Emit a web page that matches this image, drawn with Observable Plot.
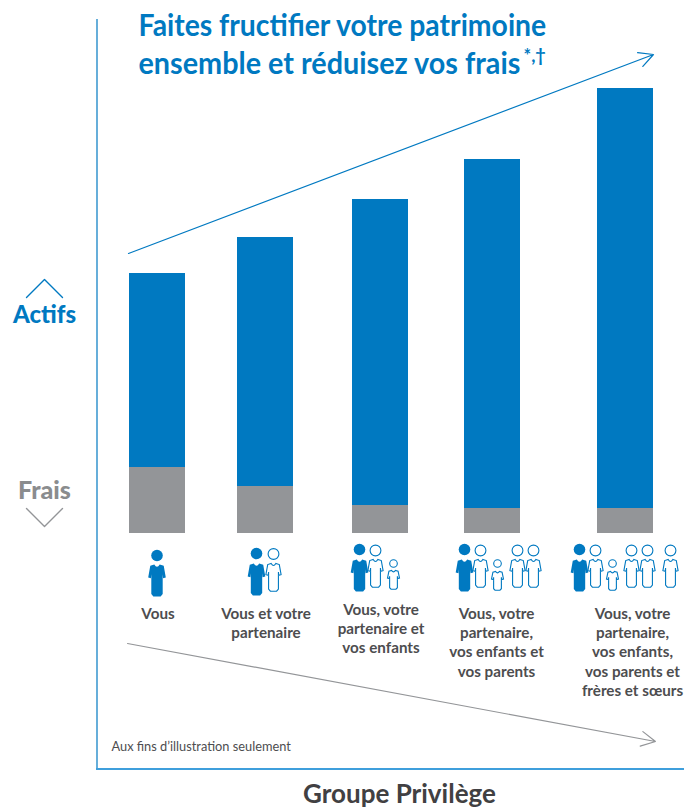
<!DOCTYPE html>
<html lang="fr">
<head>
<meta charset="utf-8">
<script src="https://cdn.jsdelivr.net/npm/d3@7"></script>
<script src="https://cdn.jsdelivr.net/npm/@observablehq/plot@0.6"></script>
<style>html,body{margin:0;padding:0;background:#fff}svg{display:block}</style>
</head>
<body>
<script>
// Chart values
const frais = [66, 47, 28, 25, 25];
const actifs = [194, 249, 306, 349, 420];
const categories = ["Vous", "Vous et votre\npartenaire", "Vous, votre\npartenaire et\nvos enfants", "Vous, votre\npartenaire,\nvos enfants et\nvos parents", "Vous, votre\npartenaire,\nvos enfants,\nvos parents et\nfrères et sœurs"];
const titleLines = ["Faites fructifier votre patrimoine", "ensemble et réduisez vos frais"];

// Layout (page pixels)
const barCenters = [157, 265, 380, 492, 625];
const labelCenters = [157.5, 265.5, 380.5, 496, 632];
const labelTops = [604.5, 604.5, 600.5, 604.5, 604.5];
const titleWidths = [408, 382];
const BASE = 533, BLUE = "#0079c1", GREY = "#939598", DARK = "#4d4d4f", LIGHTBLUE = "#3f9fdc";
const FONT = "Lato, sans-serif";
const Y = p => BASE - p;

const bars = barCenters.flatMap((c, i) => [
  {x1: c - 28, x2: c + 28, y1: 0, y2: frais[i], s: "f"},
  {x1: c - 28, x2: c + 28, y1: frais[i], y2: frais[i] + actifs[i], s: "a"}
]);
const people = [
  {x: 156.5, h: 555, b: 564, kind: "you"},
  {x: 256, h: 553, b: 563, kind: "you"}, {x: 273, h: 553.5, b: 563, kind: "adult"},
  {x: 359, h: 549, b: 559, kind: "you"}, {x: 375, h: 550, b: 559, kind: "adult"}, {x: 393, h: 563, b: 570, kind: "child"},
  {x: 464, h: 549, b: 559, kind: "you"}, {x: 480, h: 550, b: 559, kind: "adult"}, {x: 497, h: 563, b: 571, kind: "child"},
  {x: 517, h: 550, b: 559, kind: "adult"}, {x: 533, h: 550, b: 559, kind: "adult"},
  {x: 579, h: 549, b: 559, kind: "you"}, {x: 595, h: 550, b: 559, kind: "adult"}, {x: 612, h: 563, b: 571, kind: "child"},
  {x: 631, h: 550, b: 559, kind: "adult"}, {x: 647, h: 550, b: 559, kind: "adult"}, {x: 670, h: 550, b: 559, kind: "adult"}
];
const bodySymbol = (ratio) => ({
  draw(ctx, size) {
    const r = Math.sqrt(size / Math.PI), u = r / 8.5, H = ratio * 17, o = H / 2;
    const P = (x, y) => [x * u, (y * (H / 31) - o) * u];
    const pts = [[-2.6, 0], [2.6, 0], [6.5, 1.2], [8.5, 12.5], [5.9, 13.3], [5.5, 9.5], [5.5, 28.5], [3.5, 31], [-3.5, 31], [-5.5, 28.5], [-5.5, 9.5], [-5.9, 13.3], [-8.5, 12.5], [-6.5, 1.2]];
    ctx.moveTo(...P(...pts[0]));
    ctx.quadraticCurveTo(...P(0, 4.5), ...P(...pts[1]));
    pts.slice(2).forEach(p => ctx.lineTo(...P(...p)));
    ctx.closePath();
  }
});
const adult = {s: bodySymbol(31 / 17), ratio: 31 / 17}, child = {s: bodySymbol(19.5 / 12.5), ratio: 19.5 / 12.5};
const bodies = (kind, sym, r, opts) => Plot.dot(people.filter(d => d.kind === kind), {
  x: "x", y: d => Y(d.b + r * sym.ratio), symbol: sym.s, r, ...opts
});

const chart = Plot.plot({
  width: 691, height: 808,
  margin: 0,
  x: {domain: [0, 691], range: [0, 691], axis: null},
  y: {domain: [BASE - 808, BASE], range: [808, 0], axis: null},
  style: {background: "#fff", overflow: "visible"},
  marks: [
    Plot.ruleX([96.5], {y1: Y(19), y2: Y(769), stroke: BLUE, strokeWidth: 1.2}),
    Plot.ruleY([Y(768.5)], {x1: 96, x2: 684, stroke: LIGHTBLUE, strokeWidth: 1.8}),
    Plot.rectY(bars.filter(d => d.s === "f"), {x1: "x1", x2: "x2", y1: "y1", y2: "y2", fill: GREY}),
    Plot.rectY(bars.filter(d => d.s === "a"), {x1: "x1", x2: "x2", y1: "y1", y2: "y2", fill: BLUE}),
    Plot.arrow([{a: 128, b: Y(253), c: 653, d: Y(54)}], {x1: "a", y1: "b", x2: "c", y2: "d", bend: 0, stroke: BLUE, strokeWidth: 1.2, headLength: 20, headAngle: 55}),
    Plot.arrow([{a: 127, b: Y(643), c: 655, d: Y(741)}], {x1: "a", y1: "b", x2: "c", y2: "d", bend: 0, stroke: GREY, strokeWidth: 1.2, headLength: 20, headAngle: 55}),
    Plot.line([[26, 297], [44, 279], [62, 297]], {x: d => d[0], y: d => Y(d[1]), stroke: BLUE, strokeWidth: 1.4}),
    Plot.line([[26, 508], [44, 526], [62, 508]], {x: d => d[0], y: d => Y(d[1]), stroke: GREY, strokeWidth: 1.4}),
    bodies("adult", adult, 7.6, {fill: "#fff", stroke: BLUE, strokeWidth: 1.1}),
    bodies("child", child, 6, {fill: "#fff", stroke: BLUE, strokeWidth: 1.1}),
    bodies("you", adult, 8.8, {fill: BLUE}),
    Plot.dot(people.filter(d => d.kind === "you"), {x: "x", y: d => Y(d.h), r: 5.8, fill: BLUE}),
    Plot.dot(people.filter(d => d.kind === "adult"), {x: "x", y: d => Y(d.h), r: 5.4, fill: "#fff", stroke: BLUE, strokeWidth: 1.1}),
    Plot.dot(people.filter(d => d.kind === "child"), {x: "x", y: d => Y(d.h), r: 3.8, fill: "#fff", stroke: BLUE, strokeWidth: 1.1}),
    Plot.text(categories, {
      x: (d, i) => labelCenters[i], y: (d, i) => Y(labelTops[i]), text: d => d,
      lineAnchor: "top", lineHeight: 1.27, fontFamily: FONT, fontSize: 15.2, fontWeight: 700, fill: DARK, textAnchor: "middle"
    }),
    Plot.text(titleLines, {
      x: 138, y: (d, i) => Y(i === 0 ? 25.5 : 63.5), text: d => d, textAnchor: "start", lineAnchor: "middle",
      fontFamily: FONT, fontSize: 31, fontWeight: 700, fill: BLUE, className: "chart-title"
    }),
    Plot.text(["*,†"], {x: 523, y: Y(56), text: d => d, textAnchor: "start", lineAnchor: "middle", fontFamily: FONT, fontSize: 18, fontWeight: 700, fill: BLUE}),
    Plot.text(["Actifs"], {x: 44, y: Y(315), text: d => d, textAnchor: "middle", lineAnchor: "middle", fontFamily: FONT, fontSize: 24, fontWeight: 900, fill: BLUE}),
    Plot.text(["Frais"], {x: 44, y: Y(490), text: d => d, textAnchor: "middle", lineAnchor: "middle", fontFamily: FONT, fontSize: 25, fontWeight: 900, fill: "#8a8c8e"}),
    Plot.text(["Aux fins d’illustration seulement"], {x: 111, y: Y(746), text: d => d, textAnchor: "start", lineAnchor: "middle", fontFamily: FONT, fontSize: 12.8, fill: DARK}),
    Plot.text(["Groupe Privilège"], {x: 399, y: Y(794), text: d => d, textAnchor: "middle", lineAnchor: "middle", fontFamily: FONT, fontSize: 26, fontWeight: 700, fill: "#414042"})
  ]
});
document.body.appendChild(chart);
// The reference's title face is condensed: squeeze each title line to its measured width.
d3.select(chart).selectAll(".chart-title text").each(function (d, i) {
  const k = titleWidths[i] / this.getComputedTextLength();
  const t = this.getAttribute("transform") || "";
  this.setAttribute("transform", `${t} scale(${k},1)`);
});
</script>
</body>
</html>
